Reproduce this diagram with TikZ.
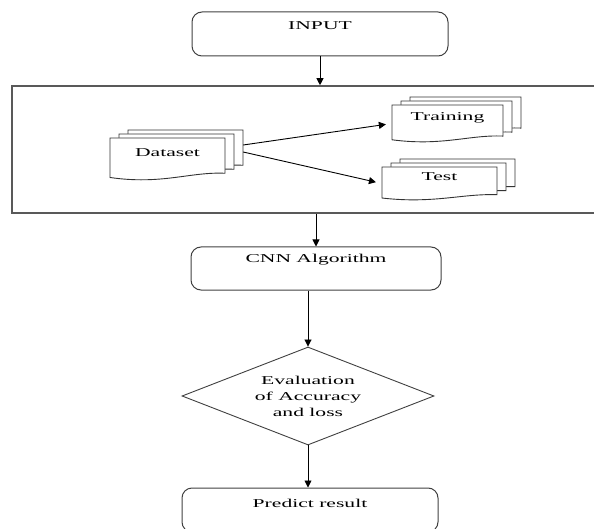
\documentclass[tikz,border=0pt]{standalone}
\usepackage{fontspec}
\setmainfont[FakeStretch=1.8]{Liberation Serif}
\usetikzlibrary{positioning,arrows.meta,shapes.geometric}

\tikzset{
    pics/sheet/.style n args={2}{
        code={
            \draw[sheetline] (0,0) -- (#1,0) -- (#1,0.84*#2)
                .. controls (0.7*#1,0.8*#2) and (0.45*#1,1.12*#2) .. (0,0.94*#2) -- cycle;
        }
    }
}

\begin{document}
\begin{tikzpicture}[
    x=1pt, y=-1pt,
    >={Triangle[length=7pt,width=7pt]},
    font=\fontsize{12}{15}\selectfont,
    box/.style={
        draw=black!75,
        line width=1pt,
        rounded corners=10pt,
        minimum width=256pt,
        minimum height=44pt,
        text height=9pt,
        text depth=18pt,
        inner sep=0pt
    },
    frame/.style={
        draw=black!65,
        line width=1.6pt,
        minimum width=590pt,
        minimum height=127pt
    },
    sheetline/.style={
        draw=black!80,
        line width=0.9pt,
        fill=white
    },
    doc/.style={
        minimum width=115pt,
        text height=9pt,
        text depth=14pt,
        inner sep=0pt
    },
    decision/.style={
        diamond,
        draw=black!75,
        line width=0.9pt,
        aspect=2.5,
        minimum width=252pt,
        minimum height=98pt,
        inner sep=1pt,
        align=center,
        font=\fontsize{12}{16}\selectfont
    },
    arrow/.style={->, line width=0.9pt}
]

\useasboundingbox (0,0) rectangle (594,529);

\node[box] (input) at (320,34)
{INPUT};

% DATA SPLIT
\node[frame] (split) at (307,149.5) {};

\foreach \x/\y/\w/\h in {110/138/115/42, 392/105/111/37, 382/167/115/33}{
    \foreach \k in {2,1,0}
        \pic at (\x+9*\k,\y-4*\k) {sheet={\w}{\h}};
}

\node[doc, minimum height=42pt] (dataset) at (167.5,159)
{Dataset};

\node[doc, minimum width=111pt, minimum height=37pt] (training) at (447.5,123.5)
{Training};

\node[doc, minimum height=33pt] (test) at (439.5,183.5)
{Test};

\draw[arrow] (input) -- (input |- split.north);
\draw[arrow, shorten >=6pt] ([shift={(18,-14)}]dataset.east) -- (training.west);
\draw[arrow, shorten >=6pt] ([shift={(18,-7)}]dataset.east) -- (test.west);

% MODEL
\node[box, minimum width=250pt, minimum height=43pt, text depth=20pt] (cnn) at (316,268.5)
{CNN Algorithm};

\node[decision] (eval) at (308,396)
{Evaluation\\of Accuracy\\and loss};

\node[box, text depth=14pt] (predict) at (310,510)
{Predict result};

\draw[arrow] (cnn |- split.south) -- (cnn);
\draw[arrow] (eval.north |- cnn.south) -- (eval);
\draw[arrow] (eval) -- (eval.south |- predict.north);

\end{tikzpicture}
\end{document}
